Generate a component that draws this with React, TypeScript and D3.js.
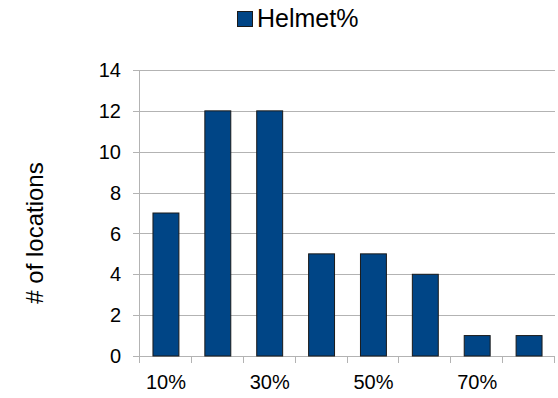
import * as d3 from "d3";
import React, { useEffect, useRef } from "react";

const categories = ["10%", "20%", "30%", "40%", "50%", "60%", "70%", "80%"];
const helmetCounts = [7, 12, 12, 5, 5, 4, 1, 1];
const yTicks = [0, 2, 4, 6, 8, 10, 12, 14];
const shownLabels = ["10%", "30%", "50%", "70%"];
const seriesName = "Helmet%";
const yTitle = "# of locations";

export default function App() {
  const ref = useRef<SVGSVGElement>(null);

  useEffect(() => {
    const width = 558;
    const height = 398;
    const margin = { top: 70, right: 3, bottom: 42, left: 140 };
    const font = "'Liberation Sans', Arial, sans-serif";

    const svg = d3.select(ref.current);
    svg.selectAll("*").remove();

    const x = d3
      .scaleBand()
      .domain(categories)
      .range([margin.left, width - margin.right])
      .paddingInner(0.5)
      .paddingOuter(0.25);
    const step = x.step();
    const bandStart = (c: string) => x(c)! - step * 0.25;

    const y = d3
      .scaleLinear()
      .domain([0, 14])
      .range([height - margin.bottom, margin.top]);

    // gridlines + y labels
    const yAxis = svg.append("g");
    yAxis
      .selectAll("line")
      .data(yTicks)
      .join("line")
      .attr("x1", margin.left - 7)
      .attr("x2", width - margin.right)
      .attr("y1", (d) => Math.round(y(d)) + 0.5)
      .attr("y2", (d) => Math.round(y(d)) + 0.5)
      .attr("stroke", "#b3b3b3")
      .attr("stroke-width", 1);
    yAxis
      .selectAll("text")
      .data(yTicks)
      .join("text")
      .attr("x", margin.left - 19)
      .attr("y", (d) => y(d))
      .attr("dy", "0.36em")
      .attr("text-anchor", "end")
      .attr("font-family", font)
      .attr("font-size", 20)
      .attr("fill", "#000")
      .text((d) => d);

    // left axis line
    svg
      .append("line")
      .attr("x1", margin.left - 0.5)
      .attr("x2", margin.left - 0.5)
      .attr("y1", y(14))
      .attr("y2", y(0) + 7)
      .attr("stroke", "#b3b3b3");

    // x ticks at band boundaries
    const boundaries = [...categories.map(bandStart), width - margin.right];
    svg
      .append("g")
      .selectAll("line")
      .data(boundaries)
      .join("line")
      .attr("x1", (d) => Math.round(d) - 0.5)
      .attr("x2", (d) => Math.round(d) - 0.5)
      .attr("y1", y(0))
      .attr("y2", y(0) + 7)
      .attr("stroke", "#b3b3b3");

    // bars
    svg
      .append("g")
      .selectAll("rect")
      .data(helmetCounts)
      .join("rect")
      .attr("x", (_, i) => x(categories[i])!)
      .attr("y", (d) => y(d))
      .attr("width", x.bandwidth())
      .attr("height", (d) => y(0) - y(d))
      .attr("fill", "#004586")
      .attr("stroke", "#1a1a1a")
      .attr("stroke-width", 1);

    // x labels
    svg
      .append("g")
      .selectAll("text")
      .data(shownLabels)
      .join("text")
      .attr("x", (d) => x(d)! + x.bandwidth() / 2)
      .attr("y", 389)
      .attr("text-anchor", "middle")
      .attr("font-family", font)
      .attr("font-size", 20)
      .attr("fill", "#000")
      .text((d) => d);

    // y title
    svg
      .append("text")
      .attr("transform", "translate(43,233) rotate(-90)")
      .attr("text-anchor", "middle")
      .attr("font-family", font)
      .attr("font-size", 24)
      .attr("fill", "#000")
      .text(yTitle);

    // legend
    const legend = svg.append("g");
    legend
      .append("rect")
      .attr("x", 237.5)
      .attr("y", 11.5)
      .attr("width", 15)
      .attr("height", 15)
      .attr("fill", "#004586")
      .attr("stroke", "#1a1a1a");
    legend
      .append("text")
      .attr("x", 257)
      .attr("y", 27)
      .attr("font-family", font)
      .attr("font-size", 25)
      .attr("fill", "#000")
      .text(seriesName);
  }, []);

  return (
    <svg
      ref={ref}
      width={558}
      height={398}
      style={{ position: "absolute", left: 0, top: 0, background: "#fff" }}
    />
  );
}
